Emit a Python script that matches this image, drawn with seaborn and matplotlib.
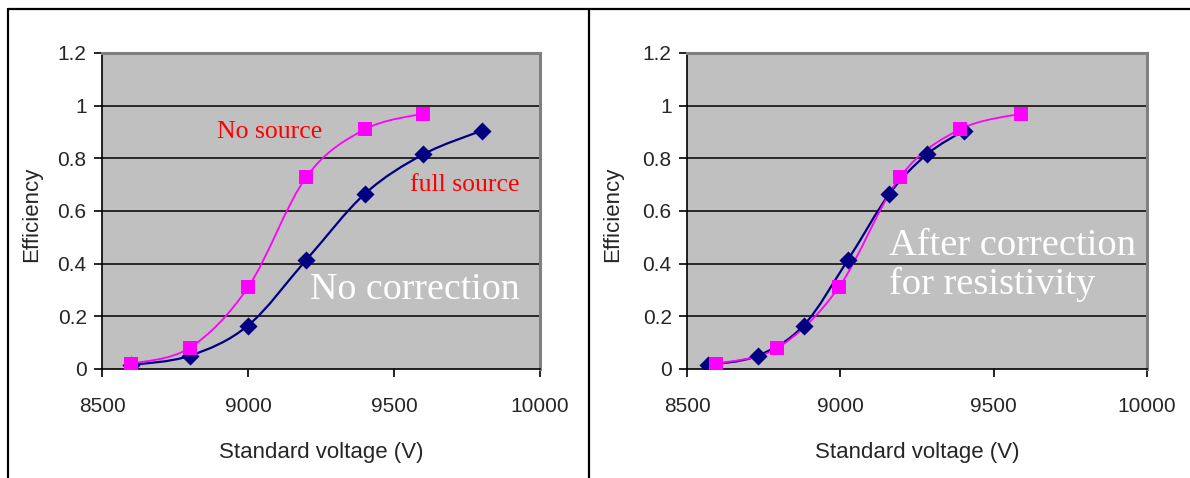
"""Efficiency vs standard voltage, before and after resistivity correction."""

import numpy as np
import pandas as pd
import matplotlib
matplotlib.use("Agg")
import matplotlib.pyplot as plt
from matplotlib.lines import Line2D
from matplotlib.path import Path
from matplotlib.patches import PathPatch
import seaborn as sns

# Values
nosrc_v = [8600, 8800, 9000, 9200, 9400, 9600]
nosrc_eff = [0.02, 0.08, 0.31, 0.73, 0.91, 0.97]

full_v = [8600, 8800, 9000, 9200, 9400, 9600, 9800]
full_eff = [0.015, 0.05, 0.165, 0.415, 0.665, 0.815, 0.905]

# after correction for resistivity, full source points shift to lower voltage
full_v_corr = [8570, 8730, 8880, 9025, 9160, 9282, 9402]
nosrc_v_corr = [8595, 8795, 8995, 9195, 9390, 9590]

X_TICKS = [8500, 9000, 9500, 10000]
Y_TICKS = [0, 0.2, 0.4, 0.6, 0.8, 1.0]
Y_LABELS = ["0", "0.2", "0.4", "0.6", "0.8", "1", "1.2"]

MAGENTA = "#FF00FF"
NAVY = "#000080"
PLOT_BG = "#C0C0C0"

sns.set_style("white")
plt.rcParams["font.family"] = ["Liberation Sans", "DejaVu Sans"]
SERIF = ["Liberation Serif", "DejaVu Serif"]


def smooth_line(ax, xs, ys, color, lw):
    """Excel-style smoothed line: Catmull-Rom as cubic Bezier in data space."""
    pts = np.column_stack([xs, ys]).astype(float)
    n = len(pts)
    verts = [pts[0]]
    codes = [Path.MOVETO]
    for i in range(n - 1):
        p0 = pts[i - 1] if i > 0 else pts[i]
        p1, p2 = pts[i], pts[i + 1]
        p3 = pts[i + 2] if i + 2 < n else pts[i + 1]
        c1 = p1 + (p2 - p0) / 6.0
        c2 = p2 - (p3 - p1) / 6.0
        verts += [c1, c2, p2]
        codes += [Path.CURVE4] * 3
    ax.add_patch(PathPatch(Path(verts, codes), facecolor="none",
                           edgecolor=color, lw=lw, zorder=3))


def draw_panel(ax, full_x, nos_x):
    ax.set_facecolor(PLOT_BG)
    smooth_line(ax, full_x, full_eff, NAVY, 1.6)
    smooth_line(ax, nos_x, nosrc_eff, MAGENTA, 1.3)
    df_full = pd.DataFrame({"v": full_x, "eff": full_eff})
    df_nos = pd.DataFrame({"v": nos_x, "eff": nosrc_eff})
    sns.scatterplot(data=df_full, x="v", y="eff", ax=ax, marker="D", s=85,
                    color=NAVY, edgecolor=NAVY, linewidth=0, zorder=4)
    sns.scatterplot(data=df_nos, x="v", y="eff", ax=ax, marker="s", s=110,
                    color=MAGENTA, edgecolor=MAGENTA, linewidth=0, zorder=5)

    ax.set_xlim(8500, 10000)
    ax.set_ylim(0, 1.2)
    ax.set_xticks(X_TICKS)
    ax.set_xticklabels([str(t) for t in X_TICKS])
    ax.set_yticks(Y_TICKS + [1.2])
    ax.set_yticklabels(Y_LABELS)
    for y in Y_TICKS[1:]:
        ax.axhline(y, color="black", lw=1.1, zorder=1)

    for side in ("top", "right"):
        ax.spines[side].set_visible(True)
        ax.spines[side].set_color("#808080")
        ax.spines[side].set_linewidth(2.2)
    for side in ("left", "bottom"):
        ax.spines[side].set_color("black")
        ax.spines[side].set_linewidth(1.2)
    ax.tick_params(axis="both", direction="out", length=6, width=1.2,
                   color="black", labelsize=15, pad=5)
    ax.tick_params(axis="x", pad=14)
    ax.tick_params(left=True, bottom=True)

    ax.set_xlabel("Standard voltage (V)", fontsize=16)
    ax.set_ylabel("Efficiency", fontsize=16)


fig = plt.figure(figsize=(11.9, 4.78), dpi=100)
ax1 = fig.add_axes([102 / 1190, 109 / 478, 438 / 1190, 316 / 478])
ax2 = fig.add_axes([687 / 1190, 109 / 478, 460 / 1190, 316 / 478])

draw_panel(ax1, full_v, nosrc_v)
draw_panel(ax2, full_v_corr, nosrc_v_corr)

ax1.yaxis.set_label_coords(-0.137, 0.49)
ax2.yaxis.set_label_coords(-0.139, 0.49)
ax1.xaxis.set_label_coords(0.5, -0.23)
ax2.xaxis.set_label_coords(0.5, -0.23)

ax1.text(8895, 0.90, "No source", color="red", fontsize=18.5,
         family=SERIF, va="center", ha="left")
ax1.text(9555, 0.70, "full source", color="red", fontsize=18.5,
         family=SERIF, va="center", ha="left")
ax1.text(9212, 0.30, "No correction", color="white", fontsize=27.3,
         family=SERIF, va="center", ha="left")
ax2.text(9158, 0.395, "After correction\nfor resistivity", color="white",
         fontsize=27.7, family=SERIF, va="center", ha="left", linespacing=1.13)

# panel frame lines
W, H = 1190, 478
fig.add_artist(Line2D([8 / W, 1.0], [1 - 9 / H, 1 - 9 / H], color="black", lw=1.6))
fig.add_artist(Line2D([8 / W, 8 / W], [0, 1 - 9 / H], color="black", lw=1.6))
fig.add_artist(Line2D([589 / W, 589 / W], [0, 1 - 9 / H], color="black", lw=1.6))

fig.savefig("out.png", dpi=100)
plt.close(fig)
